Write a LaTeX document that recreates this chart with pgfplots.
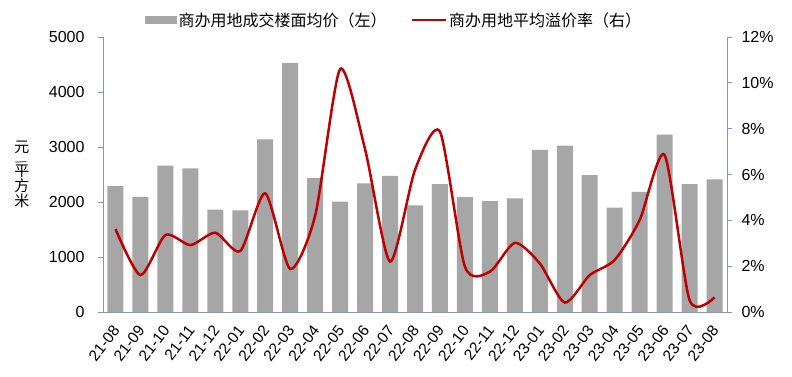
\documentclass[border=0pt]{standalone}
\usepackage{pgfplots}
\pgfplotsset{compat=1.18}
\usepackage{fontspec}
\setmainfont{Liberation Sans}
\newfontfamily\cjk{Noto Sans CJK SC}
\definecolor{barc}{HTML}{A6A6A6}
\definecolor{linec}{HTML}{C00000}
\definecolor{axc}{HTML}{8497B0}
\newcommand{\fs}{\fontsize{16}{19}\selectfont}
\begin{document}
\begin{tikzpicture}
\useasboundingbox (-103pt,-64pt) rectangle (689pt,312pt);
\begin{axis}[
  at={(0pt,0pt)}, anchor=south west,
  width=624pt, height=275pt, scale only axis,
  xmin=-0.5, xmax=24.5, ymin=0, ymax=5000,
  ytick={0,1000,2000,3000,4000,5000},
  xtick={0,...,24},
  xticklabels={21-08,21-09,21-10,21-11,21-12,22-01,22-02,22-03,22-04,22-05,22-06,22-07,22-08,22-09,22-10,22-11,22-12,23-01,23-02,23-03,23-04,23-05,23-06,23-07,23-08},
  axis x line*=bottom, axis y line*=left,
  axis line style={axc, line width=0.8pt},
  x tick style={draw=none},
  y tick style={axc, line width=0.8pt},
  tick align=outside, major tick length=5pt,
  /pgf/number format/assume math mode=true,
  /pgf/number format/1000 sep={},
  tick label style={font=\fs, black},
  yticklabel style={xshift=-10pt},
  xticklabel style={xshift=3pt, yshift=-8pt, rotate=52, anchor=east, font=\fontsize{15.5}{18}\selectfont},
  every axis y label/.style={at={(axis description cs:-0.13,0.5)}, anchor=center, align=center, font=\cjk\fontsize{15}{15}\selectfont},
  ylabel={元\\[-6pt]{\fontsize{11}{11}\selectfont\rotatebox{-70}{/}}\\[-3pt]平\\方\\米},
  legend columns=2,
  legend style={draw=none, fill=none, at={(0.466,1)}, anchor=south, yshift=5pt,
    font=\cjk\fs, /tikz/every even column/.append style={column sep=22pt}},
  clip=false,
]
\addplot[ybar, bar width=16pt, fill=barc, draw=none,
  legend image code/.code={\fill[barc] (0pt,-4pt) rectangle (32pt,4pt);}]
  coordinates {(0,2290) (1,2095) (2,2660) (3,2610) (4,1860) (5,1850) (6,3140) (7,4530) (8,2436) (9,2006) (10,2340) (11,2475) (12,1940) (13,2327) (14,2091) (15,2018) (16,2067) (17,2950) (18,3024) (19,2491) (20,1897) (21,2182) (22,3225) (23,2327) (24,2412)};
\addlegendentry{商办用地成交楼面均价（左）}
\addlegendimage{legend image code/.code={\draw[linec, line width=2.5pt] (0pt,0pt) -- (34pt,0pt);}}
\addlegendentry{商办用地平均溢价率（右）}
\end{axis}
\begin{axis}[
  at={(0pt,0pt)}, anchor=south west,
  width=624pt, height=275pt, scale only axis,
  xmin=-0.5, xmax=24.5, ymin=0, ymax=12,
  ytick={0,2,4,6,8,10,12},
  yticklabel={\pgfmathprintnumber{\tick}\%},
  axis x line=none, axis y line*=right,
  axis line style={axc, line width=0.8pt},
  y tick style={axc, line width=0.8pt},
  tick align=outside, major tick length=5pt,
  /pgf/number format/assume math mode=true,
  tick label style={font=\fs, black},
  yticklabel style={xshift=6pt},
  clip=false,
]
\addplot[linec, line width=2.5pt, smooth, tension=0.42]
  coordinates {(0,3.62) (1,1.61) (2,3.36) (3,2.92) (4,3.46) (5,2.66) (6,5.18) (7,1.88) (8,4.2) (9,10.6) (10,7.1) (11,2.2) (12,6.2) (13,7.87) (14,1.98) (15,1.76) (16,3.02) (17,2.12) (18,0.41) (19,1.61) (20,2.27) (21,4.01) (22,6.85) (23,0.52) (24,0.64)};
\end{axis}
\end{tikzpicture}
\end{document}
